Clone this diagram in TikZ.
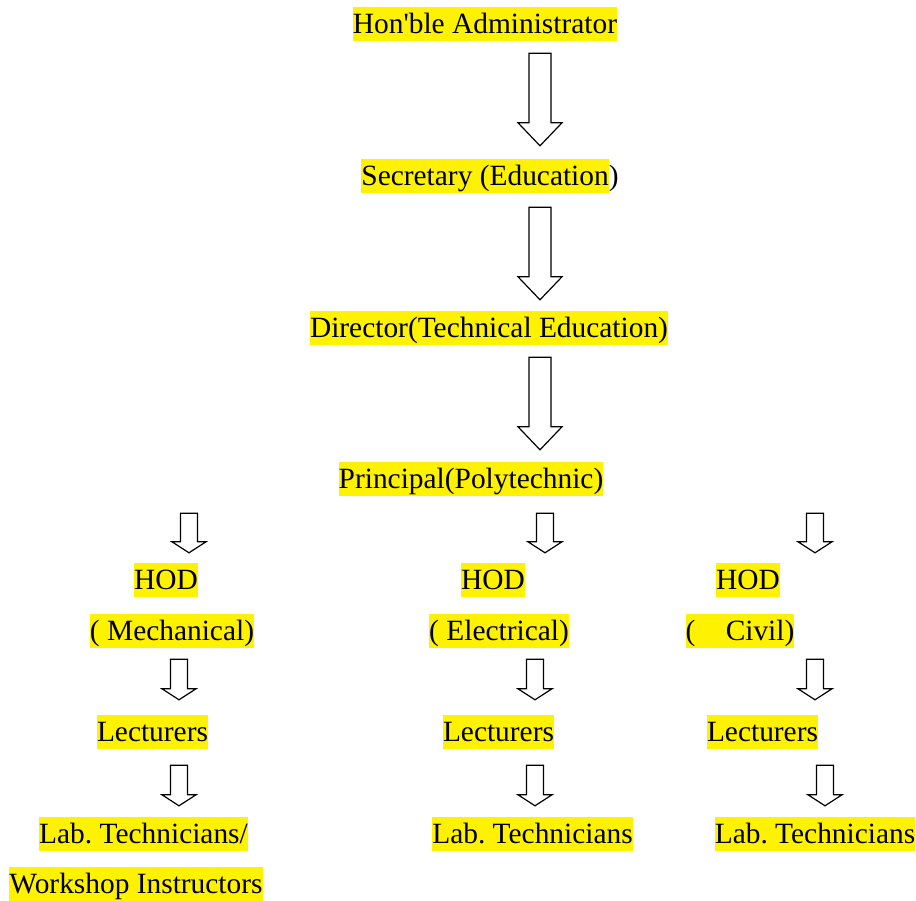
\documentclass[tikz,border=0pt]{standalone}
\usepackage{fontspec}
\setmainfont{LiberationSerif}[Extension=.ttf, UprightFont=*-Regular]
\usetikzlibrary{calc}

\newcommand{\hlbox}[1]{{\setlength{\fboxsep}{0pt}\colorbox{yellow}{\rule[-7.7pt]{0pt}{34pt}#1}}}
% #1 from, #2 to, #3 x, #4 top gap, #5 tip gap, #6 half shaft, #7 half head, #8 head length
\newcommand{\blockarrow}[8]{%
  \draw[blockline] let \p1=(#1.south), \p2=(#2.north) in
    (#3-#6,\y1-#4) -- (#3+#6,\y1-#4) -- (#3+#6,\y2+#5+#8) -- (#3+#7,\y2+#5+#8)
    -- (#3,\y2+#5) -- (#3-#7,\y2+#5+#8) -- (#3-#6,\y2+#5+#8) -- cycle;}
\newcommand{\bigarrow}[5]{\blockarrow{#1}{#2}{#3}{#4}{#5}{11}{22}{23}}
\newcommand{\smallarrow}[5]{\blockarrow{#1}{#2}{#3}{#4}{#5}{8.5}{17}{11}}

\begin{document}
\begin{tikzpicture}[x=1pt,y=1pt,
  txt/.style={inner sep=0pt, text height=26.3pt, text depth=7.7pt,
    font=\fontsize{29.4}{34}\selectfont},
  hl/.style={txt, fill=yellow},
  blockline/.style={draw=black, line width=1.2pt, fill=white, line join=miter}]
\useasboundingbox (0,0) rectangle (916,901);
\node[hl] (admin) at (485, 877) {Hon\textquotesingle ble Administrator};
\node[txt] (sec) at (490, 724.5) {\hlbox{Secretary (Education})};
\node[hl] (dir) at (489, 573) {Director(Technical Education)};
\node[hl] (prin) at (471, 422) {Principal(Polytechnic)};
\node[hl] (hodm) at (166, 321) {HOD};
\node[hl] (mech) at (172, 270) {( Mechanical)};
\node[hl] (lecm) at (152.5, 169) {Lecturers};
\node[hl] (labm) at (143.5, 67) {Lab.\ Technicians/};
\node[hl] (work) at (136, 17) {Workshop Instructors};
\node[hl] (hode) at (493, 321) {HOD};
\node[hl] (elec) at (499, 270) {( Electrical)};
\node[hl] (lece) at (498.5, 169) {Lecturers};
\node[hl] (labe) at (532.5, 67) {Lab.\ Technicians};
\node[hl] (hodc) at (748, 321) {HOD};
\node[hl] (civil) at (740, 270) {(\hspace{23pt} Civil)};
\node[hl] (lecc) at (762.5, 169) {Lecturers};
\node[hl] (labc) at (815, 67) {Lab.\ Technicians};
\bigarrow{admin}{sec}{540}{12}{13.5}
\bigarrow{sec}{dir}{540}{13.5}{11}
\bigarrow{dir}{prin}{540}{12}{12}
\smallarrow{prin}{hodm}{189}{17}{10}
\smallarrow{prin}{hode}{545}{17}{10}
\smallarrow{prin}{hodc}{815}{17}{10}
\smallarrow{mech}{lecm}{179}{11}{15}
\smallarrow{elec}{lece}{535}{11}{15}
\smallarrow{civil}{lecc}{815}{11}{15}
\smallarrow{lecm}{labm}{179}{16}{11}
\smallarrow{lece}{labe}{535}{16}{11}
\smallarrow{lecc}{labc}{825}{16}{11}
\end{tikzpicture}
\end{document}
